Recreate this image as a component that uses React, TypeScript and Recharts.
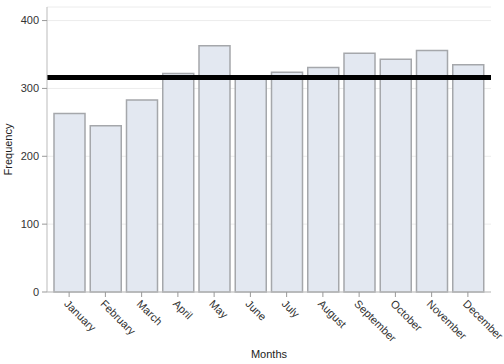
import React from 'react';
import {
  Bar,
  BarChart,
  CartesianGrid,
  ReferenceLine,
  XAxis,
  YAxis,
} from 'recharts';

const MONTHS = [
  'January',
  'February',
  'March',
  'April',
  'May',
  'June',
  'July',
  'August',
  'September',
  'October',
  'November',
  'December',
];
const FREQUENCY = [263, 245, 283, 322, 363, 315, 324, 331, 352, 343, 356, 335];
const Y_TICKS = [0, 100, 200, 300, 400];
const MEAN_LINE = 316;

const data = MONTHS.map((month, i) => ({ month, frequency: FREQUENCY[i] }));

const FONT = '"Liberation Sans", Arial, sans-serif';
const TICK = { fontSize: 11, fill: '#333', fontFamily: FONT };

export default function App() {
  return (
    <div style={{ position: 'absolute', left: 0, top: 0, background: '#fff' }}>
      <BarChart
        width={504}
        height={364}
        data={data}
        margin={{ top: 7, right: 13, bottom: 0, left: 0 }}
        barSize={31}
      >
        <CartesianGrid vertical={false} stroke="#ececec" />
        <XAxis
          dataKey="month"
          height={72}
          padding={{ left: 4, right: 5 }}
          tick={{ ...TICK, angle: 45, textAnchor: 'start' }}
          tickLine={{ stroke: '#999' }}
          axisLine={{ stroke: '#bbb' }}
          tickSize={5}
          tickMargin={2}
          interval={0}
          label={{
            value: 'Months',
            position: 'insideBottom',
            offset: 6,
            style: { fontSize: 11, fill: '#222', fontFamily: FONT },
          }}
        />
        <XAxis
          xAxisId="top"
          orientation="top"
          dataKey="month"
          height={0}
          tick={false}
          tickLine={false}
          axisLine={{ stroke: '#ccc' }}
        />
        <YAxis
          width={47}
          domain={[0, 420]}
          ticks={Y_TICKS}
          tick={TICK}
          tickLine={{ stroke: '#999' }}
          axisLine={{ stroke: '#bbb' }}
          tickSize={5}
          tickMargin={3}
          label={{
            value: 'Frequency',
            angle: -90,
            position: 'insideLeft',
            offset: 8,
            style: { fontSize: 11, fill: '#222', fontFamily: FONT, textAnchor: 'middle' },
          }}
        />
        <YAxis
          yAxisId="right"
          orientation="right"
          width={0}
          domain={[0, 420]}
          tick={false}
          tickLine={false}
          axisLine={{ stroke: '#ccc' }}
        />
        <Bar
          dataKey="frequency"
          fill="#e3e8f1"
          stroke="#a5a7ab"
          strokeWidth={1.5}
          isAnimationActive={false}
        />
        <ReferenceLine y={MEAN_LINE} stroke="#000" strokeWidth={5} />
      </BarChart>
    </div>
  );
}
